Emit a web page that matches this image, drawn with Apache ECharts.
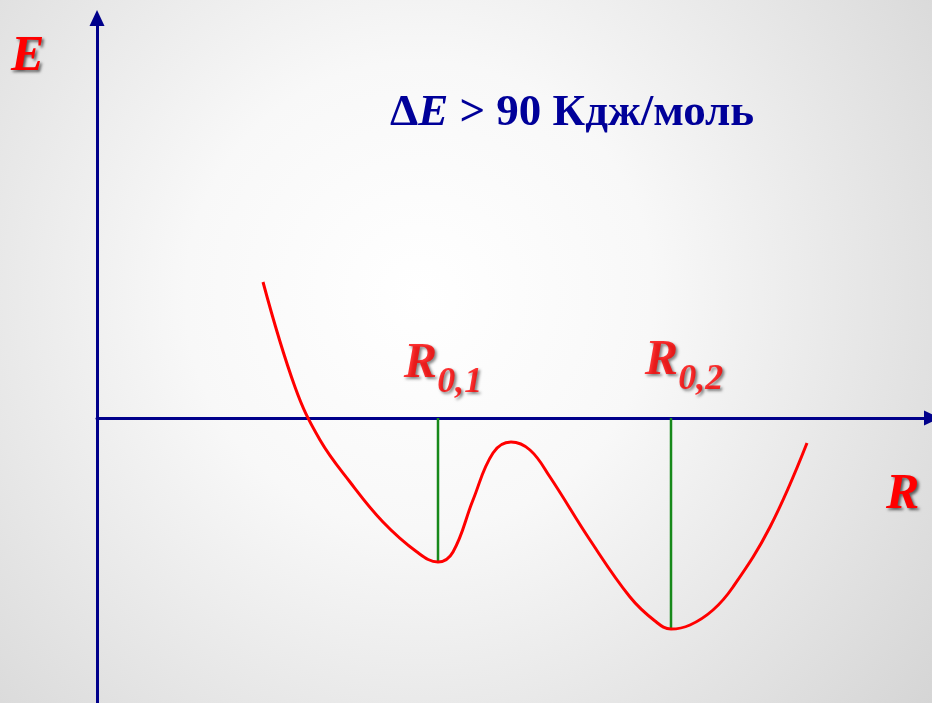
<!DOCTYPE html>
<html>
<head>
<meta charset="utf-8">
<script src="https://cdn.jsdelivr.net/npm/echarts@6/dist/echarts.min.js"></script>
<style>
  html, body { margin: 0; padding: 0; }
  #chart { width: 932px; height: 703px; }
</style>
</head>
<body>
<div id="chart"></div>
<script>
// potential curve E(R) (axis origin = 0,0)
var curveR = [1.66, 1.98, 2.23, 2.53, 2.86, 3.20, 3.41, 3.56, 3.76, 3.96, 4.14, 4.33, 4.53, 4.93, 5.33, 5.58, 5.74, 5.93, 6.16, 6.36, 6.73, 7.10];
var curveE = [1.36, 0.31, -0.22, -0.64, -1.04, -1.34, -1.44, -1.34, -0.82, -0.35, -0.24, -0.32, -0.59, -1.22, -1.79, -2.03, -2.11, -2.07, -1.92, -1.69, -1.09, -0.25];

// the two minima
var minimaR = [3.41, 5.74];
var minimaE = [-1.44, -2.11];
var minimaSub = ['0,1', '0,2'];

var axisRange = { xMin: 0, xMax: 8.35, yMin: -2.85, yMax: 4.0 };

var NAVY = '#00008b';
var RED = '#ff0000';
var GREEN = '#17891a';
var SERIF = '"Liberation Serif", "Times New Roman", serif';

var redShadow = {
  textShadowColor: 'rgba(0,0,0,0.6)',
  textShadowBlur: 3,
  textShadowOffsetX: 2,
  textShadowOffsetY: 2
};

var myChart = echarts.init(document.getElementById('chart'));

var curveData = curveR.map(function (r, i) { return [r, curveE[i]]; });

var dropLines = minimaR.map(function (r, i) {
  return {
    type: 'line',
    data: [[r, 0], [r, minimaE[i]]],
    symbol: 'none',
    silent: true,
    lineStyle: { color: GREEN, width: 2.5 },
    z: 2
  };
});

var labelOffsets = [[5, 0], [13, -3]];

var axisLineStyle = {
  onZero: true,
  symbol: ['none', 'triangle'],
  symbolSize: [15, 16],
  lineStyle: { color: NAVY, width: 3 }
};

var option = {
  animation: false,
  graphic: [
    {
      type: 'rect',
      z: -10,
      silent: true,
      shape: { x: 0, y: 0, width: 932, height: 703 },
      style: {
        fill: new echarts.graphic.RadialGradient(0.45, 0.42, 0.95, [
          { offset: 0, color: '#ffffff' },
          { offset: 0.35, color: '#f8f8f8' },
          { offset: 1, color: '#d4d4d4' }
        ])
      }
    },
    {
      type: 'text',
      left: 11,
      top: 32,
      style: Object.assign({
        text: 'E',
        fill: RED,
        font: 'italic bold 50px ' + SERIF
      }, redShadow)
    },
    {
      type: 'text',
      left: 886,
      top: 470,
      style: Object.assign({
        text: 'R',
        fill: RED,
        font: 'italic bold 50px ' + SERIF
      }, redShadow)
    }
  ],
  title: {
    text: '{d|Δ}{e|E}{t| > 90 Кдж/моль}',
    left: 385,
    top: 86,
    textStyle: {
      rich: {
        d: { fontFamily: SERIF, fontWeight: 'bold', fontSize: 45, color: '#000099' },
        e: { fontFamily: SERIF, fontWeight: 'bold', fontStyle: 'italic', fontSize: 45, color: '#000099' },
        t: { fontFamily: SERIF, fontWeight: 'bold', fontSize: 45, color: '#000099' }
      }
    }
  },
  grid: { left: 97, right: 0, top: 18, bottom: 0 },
  xAxis: {
    type: 'value',
    min: axisRange.xMin,
    max: axisRange.xMax,
    axisLine: axisLineStyle,
    axisTick: { show: false },
    axisLabel: { show: false },
    splitLine: { show: false }
  },
  yAxis: {
    type: 'value',
    min: axisRange.yMin,
    max: axisRange.yMax,
    axisLine: axisLineStyle,
    axisTick: { show: false },
    axisLabel: { show: false },
    splitLine: { show: false }
  },
  series: dropLines.concat([
    {
      type: 'line',
      data: curveData,
      smooth: 0.4,
      symbol: 'none',
      silent: true,
      lineStyle: { color: RED, width: 3 },
      z: 3
    },
    {
      type: 'scatter',
      symbolSize: 0,
      silent: true,
      z: 4,
      data: minimaR.map(function (r, i) {
        return {
          value: [r, 0],
          name: minimaSub[i],
          label: { offset: labelOffsets[i] }
        };
      }),
      label: {
        show: true,
        position: 'top',
        distance: 29,
        formatter: function (p) { return '{r|R}{s|' + p.name + '}'; },
        rich: {
          r: Object.assign({
            fontFamily: SERIF, fontWeight: 'bold', fontStyle: 'italic',
            fontSize: 50, lineHeight: 50, color: RED, verticalAlign: 'top'
          }, redShadow),
          s: Object.assign({
            fontFamily: SERIF, fontWeight: 'bold', fontStyle: 'italic',
            fontSize: 36, lineHeight: 36, color: RED, verticalAlign: 'top',
            padding: [26, 0, 0, 0]
          }, redShadow)
        }
      }
    }
  ])
};

myChart.setOption(option);
</script>
</body>
</html>
